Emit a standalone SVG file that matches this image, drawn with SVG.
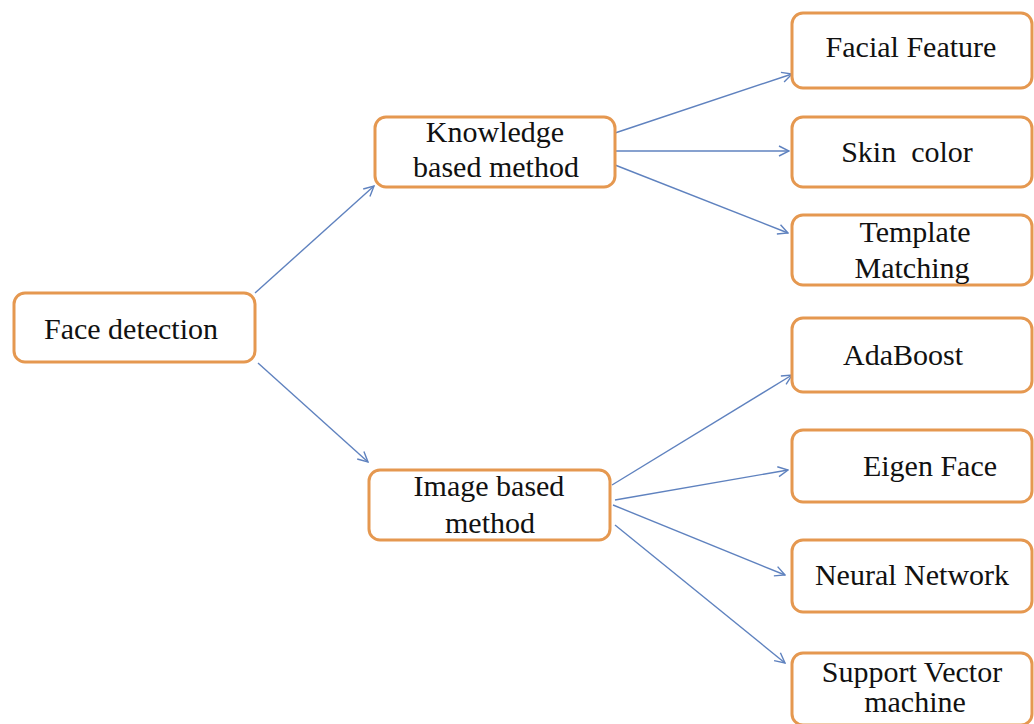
<svg xmlns="http://www.w3.org/2000/svg" width="1034" height="724" viewBox="0 0 1034 724">
<style>
.box{fill:#ffffff;stroke:#e59850;stroke-width:3}
.t{font-family:"Liberation Serif","Times New Roman",serif;font-size:30px;fill:#111111;text-anchor:middle}
.c{stroke:#5f82bf;stroke-width:1.4;fill:none;marker-end:url(#ah)}
</style>
<defs>
<marker id="ah" viewBox="0 0 12 12" refX="11" refY="6" markerWidth="12" markerHeight="12" markerUnits="userSpaceOnUse" orient="auto">
<path d="M1,1 L11,6 L1,11" fill="none" stroke="#5f82bf" stroke-width="1.4"/>
</marker>
</defs>
<rect width="1034" height="724" fill="#ffffff"/>
<g id="connectors">
<line class="c" x1="255" y1="293" x2="374" y2="186"/>
<line class="c" x1="258" y1="363" x2="368" y2="462"/>
<line class="c" x1="615" y1="133" x2="792" y2="74"/>
<line class="c" x1="612" y1="151" x2="789" y2="151"/>
<line class="c" x1="615" y1="165" x2="788" y2="233"/>
<line class="c" x1="612" y1="485" x2="792" y2="375"/>
<line class="c" x1="615" y1="500" x2="788" y2="470"/>
<line class="c" x1="613" y1="505" x2="785" y2="575"/>
<line class="c" x1="615" y1="525" x2="785" y2="663"/>
</g>
<g id="face-detection"><rect class="box" x="14" y="293" width="241" height="69" rx="11"/><text class="t" x="131" y="339">Face detection</text></g>
<g id="knowledge"><rect class="box" x="375" y="117" width="240" height="70" rx="11"/><text class="t" x="495" y="142">Knowledge</text><text class="t" x="496" y="177">based method</text></g>
<g id="image"><rect class="box" x="369" y="470" width="241" height="70" rx="11"/><text class="t" x="489" y="496">Image based</text><text class="t" x="490" y="533">method</text></g>
<g id="facial-feature"><rect class="box" x="792" y="13" width="240" height="75" rx="11"/><text class="t" x="911" y="57">Facial Feature</text></g>
<g id="skin-color"><rect class="box" x="792" y="117" width="240" height="70" rx="11"/><text class="t" x="907" y="162" xml:space="preserve">Skin  color</text></g>
<g id="template"><rect class="box" x="792" y="215" width="240" height="70" rx="11"/><text class="t" x="915" y="242">Template</text><text class="t" x="912" y="278">Matching</text></g>
<g id="adaboost"><rect class="box" x="792" y="318" width="240" height="74" rx="11"/><text class="t" x="903" y="365">AdaBoost</text></g>
<g id="eigen"><rect class="box" x="792" y="430" width="240" height="72" rx="11"/><text class="t" x="930" y="476">Eigen Face</text></g>
<g id="neural"><rect class="box" x="792" y="540" width="240" height="72" rx="11"/><text class="t" x="912" y="585">Neural Network</text></g>
<g id="svm"><rect class="box" x="792" y="653" width="240" height="72" rx="11"/><text class="t" x="912" y="682">Support Vector</text><text class="t" x="915" y="712">machine</text></g>
</svg>
